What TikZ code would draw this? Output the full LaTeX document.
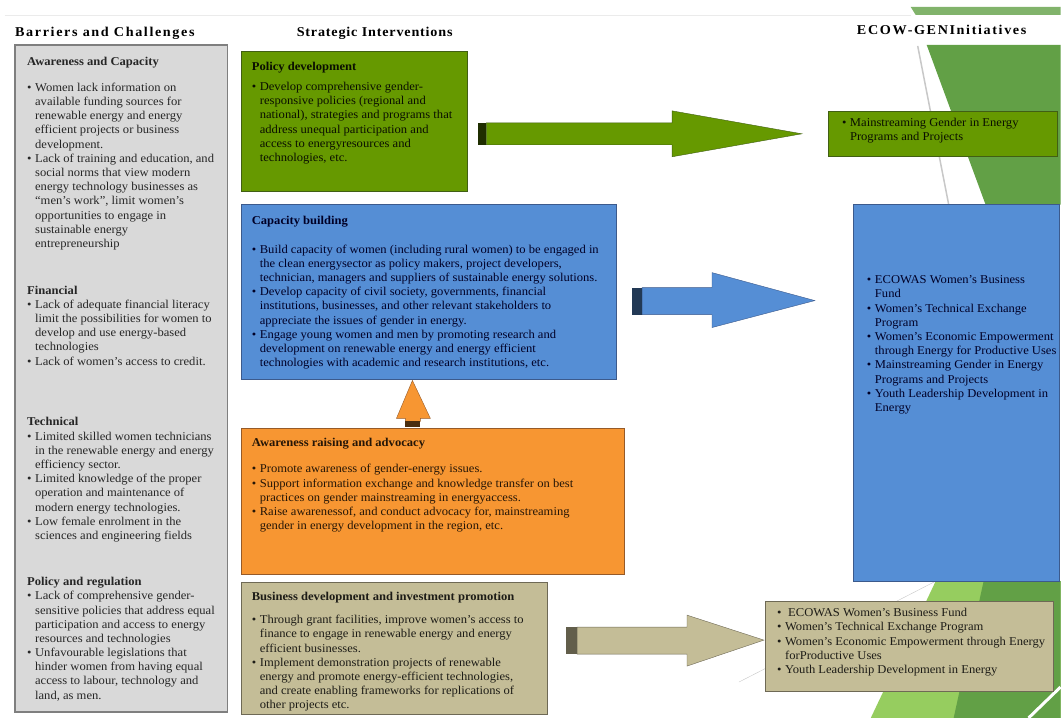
\documentclass[tikz,border=0pt]{standalone}
\usepackage{fontspec}
\setmainfont{Liberation Serif}[FakeStretch=1.05]
\newfontfamily\headfont{Liberation Serif}[FakeStretch=1.05,LetterSpace=6]
\newfontfamily\headwidefont{Liberation Serif}[FakeStretch=1.05,LetterSpace=12]
\usepackage{tikz}

\definecolor{boxgray}{RGB}{217,217,217}
\definecolor{edgegray}{RGB}{127,127,127}
\definecolor{polgreen}{RGB}{102,153,0}
\definecolor{polgreenedge}{RGB}{65,95,20}
\definecolor{capblue}{RGB}{85,142,213}
\definecolor{capblueedge}{RGB}{60,90,140}
\definecolor{awaorange}{RGB}{247,150,50}
\definecolor{awaorangeedge}{RGB}{150,90,40}
\definecolor{bustan}{RGB}{196,189,151}
\definecolor{bustanedge}{RGB}{110,105,85}
\definecolor{themegreen}{RGB}{98,160,70}
\definecolor{themelight}{RGB}{150,205,95}
\definecolor{themeline}{RGB}{200,200,200}

\newcommand{\bi}[1]{\makebox[8pt][l]{\textbullet}#1}
\newcommand{\ci}[1]{\hspace*{8pt}#1}

\begin{document}
\begin{tikzpicture}[x=1pt,y=1pt,yscale=-1]
            \tikzstyle{every node}=[font={\fontsize{12}{14.2}\selectfont}]
            \fill[white] (0,0) rectangle (1062,719);

            %Shape: theme bands
            \fill[color=themegreen!80!white] (912,7) -- (1062,7) -- (1062,15) -- (917,15) -- cycle ;
            \fill[color=themegreen] (928,45) -- (1062,45) -- (1062,205) -- (987,205) -- cycle ;
            \draw[color=themeline, line width=1.5] (919,46) -- (952,215) ;
            \fill[color=themelight] (937,582) -- (1062,582) -- (1062,719) -- (872,719) -- cycle ;
            \fill[color=themegreen] (985,582) -- (1062,582) -- (1062,719) -- (955,719) -- cycle ;
            \draw[color=white, line width=3] (1030,719) -- (1062,688) ;
            \draw[color=themeline] (740,683) -- (937,582) ;
            \draw[color=black!8] (5,15) -- (912,15) ;

            %Shape: Rectangle [barriers]
            \draw[color=edgegray, fill=boxgray, line width=1.2] (15,45) rectangle (228,713) ;
            %Shape: Rectangle [policy]
            \draw[color=polgreenedge, fill=polgreen, line width=1] (242,52) rectangle (468,192) ;
            %Shape: Rectangle [capacity]
            \draw[color=capblueedge, fill=capblue, line width=1] (242,205) rectangle (617,380) ;
            %Shape: Rectangle [awareness]
            \draw[color=awaorangeedge, fill=awaorange, line width=1] (242,429) rectangle (625,575) ;
            %Shape: Rectangle [business]
            \draw[color=bustanedge, fill=bustan, line width=1] (242,583) rectangle (548,716) ;
            %Shape: Rectangle [initiatives]
            \draw[color=polgreenedge, fill=polgreen, line width=1] (830,112) rectangle (1059,157) ;
            \draw[color=capblueedge, fill=capblue, line width=1] (855,205) rectangle (1061,582) ;
            \draw[color=bustanedge, fill=bustan, line width=1] (767,602) rectangle (1055,692) ;

            %Right Arrow [policy]
            \draw[color=polgreenedge, fill=polgreen] (487,123) -- (673,123) -- (673,111) -- (803,134) -- (673,157) -- (673,145) -- (487,145) -- cycle ;
            \fill[color=black!70!polgreen] (479,123) rectangle (487,145) ;
            %Right Arrow [capacity]
            \draw[color=capblueedge, fill=capblue] (643,288) -- (713,288) -- (713,273) -- (816,301) -- (713,328) -- (713,315) -- (643,315) -- cycle ;
            \fill[color=black!60!capblue] (633,288) rectangle (643,315) ;
            %Right Arrow [business]
            \draw[color=bustanedge, fill=bustan] (578,628) -- (688,628) -- (688,616) -- (765,641) -- (688,667) -- (688,655) -- (578,655) -- cycle ;
            \fill[color=black!50!bustan] (567,628) rectangle (578,655) ;
            %Up Arrow [awareness]
            \draw[color=awaorangeedge, fill=awaorange] (406,422) -- (406,419) -- (397,419) -- (413,381) -- (431,419) -- (421,419) -- (421,422) -- cycle ;
            \fill[color=black!70!awaorange] (406,422) rectangle (421,428) ;

            % Text Node
            \draw (15,36.5) node (hbar) [anchor=base west][inner sep=0pt] {\headwidefont\bfseries\fontsize{13.5}{15}\selectfont Barriers and Challenges};
            % Text Node
            \draw (297,36.5) node (hstr) [anchor=base west][inner sep=0pt] {\headfont\bfseries\fontsize{13.5}{15}\selectfont Strategic Interventions};
            % Text Node
            \draw (858,34.5) node (heco) [anchor=base west][inner sep=0pt] {\headwidefont\bfseries\fontsize{13.5}{15}\selectfont ECOW-GENInitiatives};

            % Text Node
            \draw (27,57) node (awarecap) [anchor=north west][inner sep=0pt][align=left] [text=black!85] {\textbf{Awareness and Capacity}\\[11.8pt]
            \bi{Women lack information on}\\ \ci{available funding sources for}\\ \ci{renewable energy and energy}\\ \ci{efficient projects or business}\\ \ci{development.}\\
            \bi{Lack of training and education, and}\\ \ci{social norms that view modern}\\ \ci{energy technology businesses as}\\ \ci{“men’s work”, limit women’s}\\ \ci{opportunities to engage in}\\ \ci{sustainable energy}\\ \ci{entrepreneurship}};
            % Text Node
            \draw (27,286) node (financial) [anchor=north west][inner sep=0pt][align=left] [text=black!85] {\textbf{Financial}\\
            \bi{Lack of adequate financial literacy}\\ \ci{limit the possibilities for women to}\\ \ci{develop and use energy-based}\\ \ci{technologies}\\
            \bi{Lack of women’s access to credit.}};
            % Text Node
            \draw (27,418) node (technical) [anchor=north west][inner sep=0pt][align=left] [text=black!85] {\textbf{Technical}\\
            \bi{Limited skilled women technicians}\\ \ci{in the renewable energy and energy}\\ \ci{efficiency sector.}\\
            \bi{Limited knowledge of the proper}\\ \ci{operation and maintenance of}\\ \ci{modern energy technologies.}\\
            \bi{Low female enrolment in the}\\ \ci{sciences and engineering fields}};
            % Text Node
            \draw (27,578) node (policyreg) [anchor=north west][inner sep=0pt][align=left] [text=black!85] {\textbf{Policy and regulation}\\
            \bi{Lack of comprehensive gender-}\\ \ci{sensitive policies that address equal}\\ \ci{participation and access to energy}\\ \ci{resources and technologies}\\
            \bi{Unfavourable legislations that}\\ \ci{hinder women from having equal}\\ \ci{access to labour, technology and}\\ \ci{land, as men.}};

            % Text Node
            \draw (252,62) node (poldev) [anchor=north west][inner sep=0pt][align=left] [text=black!90!polgreen] {\textbf{Policy development}\\[6pt]
            \bi{Develop comprehensive gender-}\\ \ci{responsive policies (regional and}\\ \ci{national), strategies and programs that}\\ \ci{address unequal participation and}\\ \ci{access to energyresources and}\\ \ci{technologies, etc.}};
            % Text Node
            \draw (252,216) node (capbuild) [anchor=north west][inner sep=0pt][align=left] [text=black!85!blue] {\textbf{Capacity building}\\[14.8pt]
            \bi{Build capacity of women (including rural women) to be engaged in}\\ \ci{the clean energysector as policy makers, project developers,}\\ \ci{technician, managers and suppliers of sustainable energy solutions.}\\
            \bi{Develop capacity of civil society, governments, financial}\\ \ci{institutions, businesses, and other relevant stakeholders to}\\ \ci{appreciate the issues of gender in energy.}\\
            \bi{Engage young women and men by promoting research and}\\ \ci{development on renewable energy and energy efficient}\\ \ci{technologies with academic and research institutions, etc.}};
            % Text Node
            \draw (252,439) node (awarads) [anchor=north west][inner sep=0pt][align=left] [text=black!85!awaorange] {\textbf{Awareness raising and advocacy}\\[11.8pt]
            \bi{Promote awareness of gender-energy issues.}\\
            \bi{Support information exchange and knowledge transfer on best}\\ \ci{practices on gender mainstreaming in energyaccess.}\\
            \bi{Raise awarenessof, and conduct advocacy for, mainstreaming}\\ \ci{gender in energy development in the region, etc.}};
            % Text Node
            \draw (252,593) node (busdev) [anchor=north west][inner sep=0pt][align=left] [text=black!85!bustan] {\textbf{Business development and investment promotion}\\[8.8pt]
            \bi{Through grant facilities, improve women’s access to}\\ \ci{finance to engage in renewable energy and energy}\\ \ci{efficient businesses.}\\
            \bi{Implement demonstration projects of renewable}\\ \ci{energy and promote energy-efficient technologies,}\\ \ci{and create enabling frameworks for replications of}\\ \ci{other projects etc.}};

            % Text Node
            \draw (843,118) node (inipol) [anchor=north west][inner sep=0pt][align=left] [text=black!90!polgreen] {\bi{Mainstreaming Gender in Energy}\\ \ci{Programs and Projects}};
            % Text Node
            \draw (868,276) node (inicap) [anchor=north west][inner sep=0pt][align=left] [text=black!85!blue] {\bi{ECOWAS Women’s Business}\\ \ci{Fund}\\
            \bi{Women’s Technical Exchange}\\ \ci{Program}\\
            \bi{Women’s Economic Empowerment}\\ \ci{through Energy for Productive Uses}\\
            \bi{Mainstreaming Gender in Energy}\\ \ci{Programs and Projects}\\
            \bi{Youth Leadership Development in}\\ \ci{Energy}};
            % Text Node
            \draw (778,609) node (inibus) [anchor=north west][inner sep=0pt][align=left] [text=black!85!bustan] {\bi{ ECOWAS Women’s Business Fund}\\
            \bi{Women’s Technical Exchange Program}\\
            \bi{Women’s Economic Empowerment through Energy}\\ \ci{forProductive Uses}\\
            \bi{Youth Leadership Development in Energy}};
\end{tikzpicture}
\end{document}
